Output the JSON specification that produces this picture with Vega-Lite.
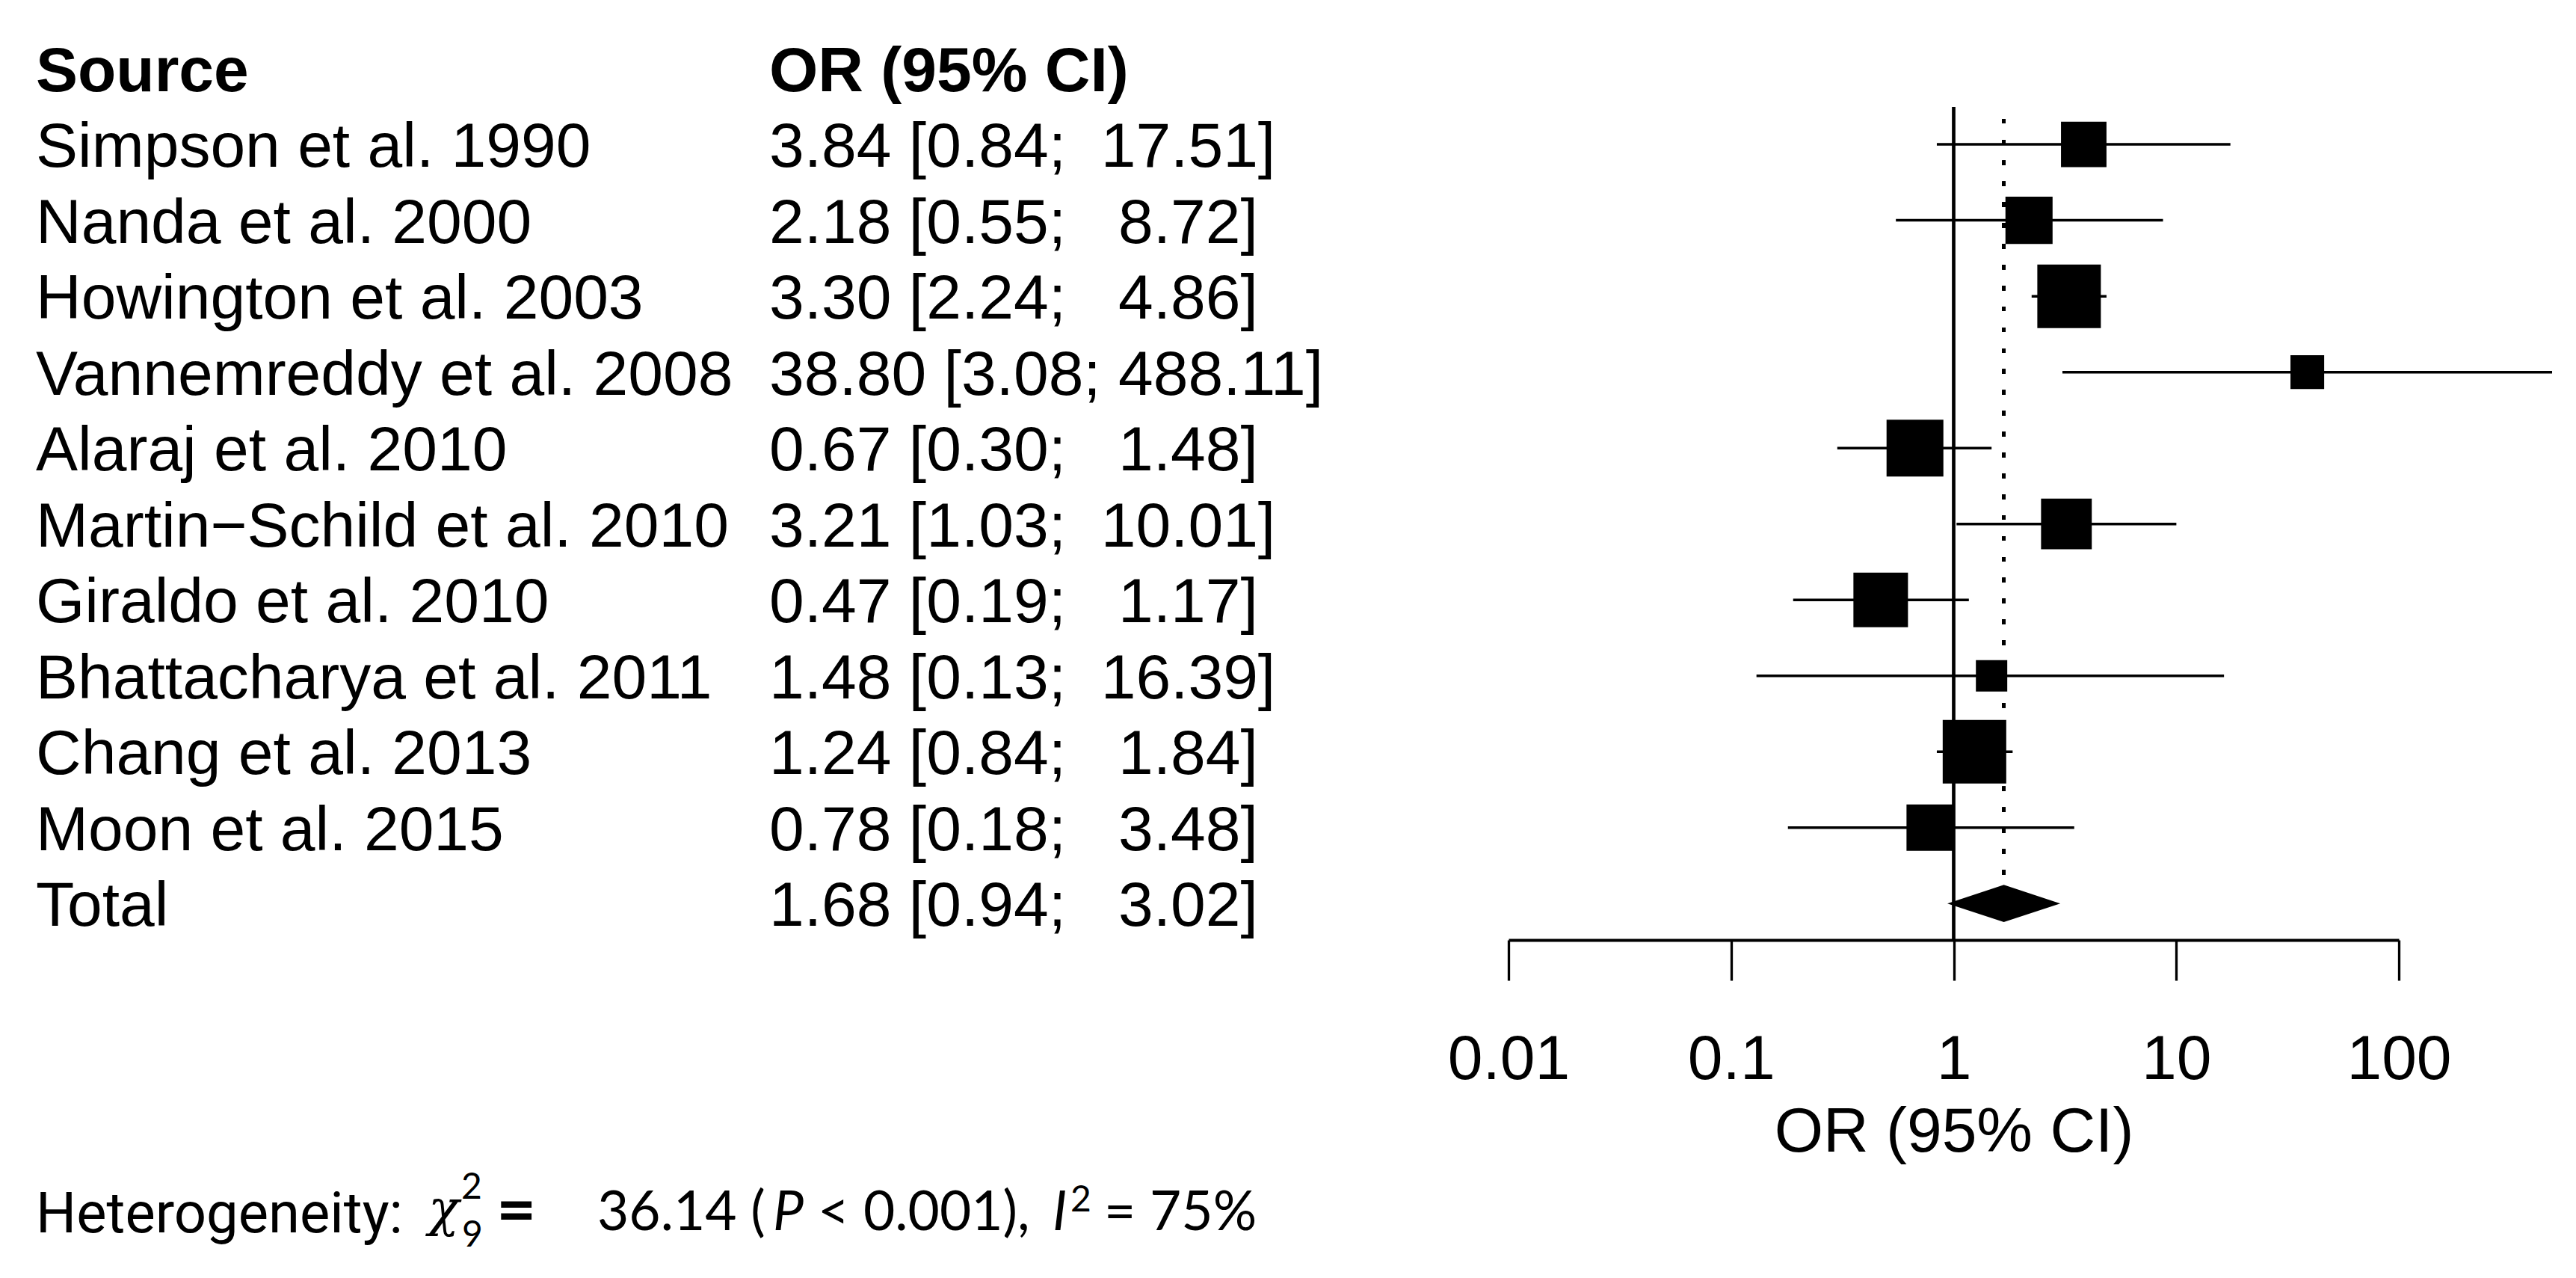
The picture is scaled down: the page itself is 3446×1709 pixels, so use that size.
{
  "$schema": "https://vega.github.io/schema/vega-lite/v6.json",
  "width": 3446,
  "height": 1257,
  "autosize": {"type": "none"},
  "padding": {"left": 0, "top": 0, "right": 0, "bottom": 452},
  "background": "white",
  "config": {
    "view": {"stroke": null},
    "font": "Liberation Sans",
    "text": {"font": "Liberation Sans"}
  },
  "datasets": {
    "studies": [
      {"row": 1, "study": "Simpson et al. 1990", "kind": "study", "or": 3.84, "lo": 0.84, "hi": 17.51, "weight": 8.2, "ci": "3.84 [0.84;\u00a0\u00a017.51]"},
      {"row": 2, "study": "Nanda et al. 2000", "kind": "study", "or": 2.18, "lo": 0.55, "hi": 8.72, "weight": 8.8, "ci": "2.18 [0.55;\u00a0\u00a0\u00a08.72]"},
      {"row": 3, "study": "Howington et al. 2003", "kind": "study", "or": 3.30, "lo": 2.24, "hi": 4.86, "weight": 16.0, "ci": "3.30 [2.24;\u00a0\u00a0\u00a04.86]"},
      {"row": 4, "study": "Vannemreddy et al. 2008", "kind": "study", "or": 38.80, "lo": 3.08, "hi": 488.11, "weight": 4.5, "ci": "38.80 [3.08; 488.11]"},
      {"row": 5, "study": "Alaraj et al. 2010", "kind": "study", "or": 0.67, "lo": 0.30, "hi": 1.48, "weight": 12.8, "ci": "0.67 [0.30;\u00a0\u00a0\u00a01.48]"},
      {"row": 6, "study": "Martin\u2212Schild et al. 2010", "kind": "study", "or": 3.21, "lo": 1.03, "hi": 10.01, "weight": 10.2, "ci": "3.21 [1.03;\u00a0\u00a010.01]"},
      {"row": 7, "study": "Giraldo et al. 2010", "kind": "study", "or": 0.47, "lo": 0.19, "hi": 1.17, "weight": 11.8, "ci": "0.47 [0.19;\u00a0\u00a0\u00a01.17]"},
      {"row": 8, "study": "Bhattacharya et al. 2011", "kind": "study", "or": 1.48, "lo": 0.13, "hi": 16.39, "weight": 3.9, "ci": "1.48 [0.13;\u00a0\u00a016.39]"},
      {"row": 9, "study": "Chang et al. 2013", "kind": "study", "or": 1.24, "lo": 0.84, "hi": 1.84, "weight": 16.0, "ci": "1.24 [0.84;\u00a0\u00a0\u00a01.84]"},
      {"row": 10, "study": "Moon et al. 2015", "kind": "study", "or": 0.78, "lo": 0.18, "hi": 3.48, "weight": 8.5, "ci": "0.78 [0.18;\u00a0\u00a0\u00a03.48]"},
      {"row": 11, "study": "Total", "kind": "total", "or": 1.68, "lo": 0.94, "hi": 3.02, "weight": null, "ci": "1.68 [0.94;\u00a0\u00a0\u00a03.02]"}
    ],
    "het": [
      {"part": "head", "label": "Heterogeneity:"},
      {"part": "chi", "label": "\u03c7"},
      {"part": "df", "label": "9"},
      {"part": "sq1", "label": "2"},
      {"part": "eq", "label": "="},
      {"part": "q", "label": "36.14 ("},
      {"part": "p", "label": "P"},
      {"part": "pv", "label": "< 0.001),"},
      {"part": "i", "label": "I"},
      {"part": "sq2", "label": "2"},
      {"part": "i2", "label": "= 75%"}
    ]
  },
  "data": {"name": "studies"},
  "layer": [
    {
      "layer": [
        {
          "mark": {"type": "rule", "color": "black", "strokeWidth": 3.3},
          "encoding": {
            "x": {"datum": 1, "type": "quantitative",
              "scale": {"type": "log", "domain": [0.01, 100], "range": [2018, 3209], "nice": false},
              "axis": {"values": [0.01, 0.1, 1, 10, 100], "format": "~g", "grid": false, "orient": "bottom",
                "tickSize": 54, "tickWidth": 3.3, "tickColor": "black", "domainColor": "black", "domainWidth": 4,
                "labelFont": "Liberation Sans", "labelFontSize": 84, "labelColor": "black", "labelPadding": 65,
                "labelFlush": false, "labelOverlap": false,
                "title": "OR (95% CI)", "titleFont": "Liberation Sans", "titleFontSize": 84, "titleFontWeight": "normal",
                "titleColor": "black", "titlePadding": 16}},
            "y": {"datum": 0.506, "type": "quantitative",
              "scale": {"domain": [-0.9025, 11.481], "reverse": true, "nice": false, "zero": false}, "axis": null},
            "y2": {"value": "height"}
          }
        },
        {
          "mark": {"type": "rule", "color": "black", "strokeWidth": 4.5, "strokeDash": [6, 21.9], "strokeCap": "butt"},
          "encoding": {
            "x": {"datum": 1.68, "type": "quantitative"},
            "y": {"datum": 0.664, "type": "quantitative"},
            "y2": {"datum": 10.754}
          }
        },
        {
          "transform": [{"filter": "datum.kind === 'study'"}],
          "mark": {"type": "rule", "color": "black", "strokeWidth": 3.5},
          "encoding": {
            "x": {"field": "lo", "type": "quantitative"},
            "x2": {"field": "hi"},
            "y": {"field": "row", "type": "quantitative"}
          }
        },
        {
          "transform": [{"filter": "datum.kind === 'study'"}],
          "mark": {"type": "point", "shape": "square", "filled": true, "color": "black", "opacity": 1, "strokeWidth": 0},
          "encoding": {
            "x": {"field": "or", "type": "quantitative"},
            "y": {"field": "row", "type": "quantitative"},
            "size": {"field": "weight", "type": "quantitative",
              "scale": {"type": "linear", "domain": [0, 16], "range": [0, 7225], "zero": true}, "legend": null}
          }
        },
        {
          "transform": [{"filter": "datum.kind === 'total'"}],
          "mark": {"type": "point", "shape": "M-1,0L0,-0.33L1,0L0,0.33Z", "filled": true, "color": "black", "opacity": 1, "strokeWidth": 0, "size": 22801},
          "encoding": {
            "x": {"field": "or", "type": "quantitative"},
            "y": {"field": "row", "type": "quantitative"}
          }
        }
      ]
    },
    {
      "layer": [
        {
          "mark": {"type": "text", "align": "left", "baseline": "middle", "dy": 5, "fontSize": 84, "color": "black"},
          "encoding": {
            "x": {"datum": "Source", "type": "nominal",
              "scale": {"type": "point", "domain": ["Source", "OR"], "range": [48, 1029], "padding": 0}, "axis": null},
            "y": {"field": "row", "type": "quantitative"},
            "text": {"field": "study"}
          }
        },
        {
          "mark": {"type": "text", "align": "left", "baseline": "middle", "dy": 5, "fontSize": 84, "color": "black"},
          "encoding": {
            "x": {"datum": "OR", "type": "nominal", "axis": null},
            "y": {"field": "row", "type": "quantitative"},
            "text": {"field": "ci"}
          }
        },
        {
          "data": {"values": [{"col": "Source", "label": "Source"}, {"col": "OR", "label": "OR (95% CI)"}]},
          "mark": {"type": "text", "align": "left", "baseline": "middle", "dy": 5, "fontSize": 84, "fontWeight": "bold", "color": "black"},
          "encoding": {
            "x": {"field": "col", "type": "nominal", "axis": null},
            "y": {"datum": 0, "type": "quantitative"},
            "text": {"field": "label"}
          }
        },
        {
          "data": {"name": "het"},
          "transform": [{"filter": "datum.part === 'head'"}],
          "mark": {"type": "text", "align": "left", "baseline": "alphabetic", "dy": 34, "fontSize": 76, "font": "Roboto", "color": "black"},
          "encoding": {"x": {"datum": "Source", "type": "nominal", "axis": null}, "y": {"datum": 15, "type": "quantitative"}, "text": {"field": "label"}}
        },
        {
          "data": {"name": "het"},
          "transform": [{"filter": "datum.part === 'chi'"}],
          "mark": {"type": "text", "align": "left", "baseline": "alphabetic", "dx": 525, "dy": 25, "fontSize": 68, "font": "DejaVu Serif", "fontStyle": "italic", "color": "black"},
          "encoding": {"x": {"datum": "Source", "type": "nominal", "axis": null}, "y": {"datum": 15, "type": "quantitative"}, "text": {"field": "label"}}
        },
        {
          "data": {"name": "het"},
          "transform": [{"filter": "datum.part === 'sq1'"}],
          "mark": {"type": "text", "align": "left", "baseline": "alphabetic", "dx": 569, "dy": -11, "fontSize": 48, "font": "Lato", "color": "black"},
          "encoding": {"x": {"datum": "Source", "type": "nominal", "axis": null}, "y": {"datum": 15, "type": "quantitative"}, "text": {"field": "label"}}
        },
        {
          "data": {"name": "het"},
          "transform": [{"filter": "datum.part === 'df'"}],
          "mark": {"type": "text", "align": "left", "baseline": "alphabetic", "dx": 570, "dy": 53, "fontSize": 48, "font": "Lato", "color": "black"},
          "encoding": {"x": {"datum": "Source", "type": "nominal", "axis": null}, "y": {"datum": 15, "type": "quantitative"}, "text": {"field": "label"}}
        },
        {
          "data": {"name": "het"},
          "transform": [{"filter": "datum.part === 'eq'"}],
          "mark": {"type": "text", "align": "left", "baseline": "alphabetic", "dx": 616, "dy": 36, "fontSize": 92, "font": "Lato", "fontWeight": "bold", "color": "black"},
          "encoding": {"x": {"datum": "Source", "type": "nominal", "axis": null}, "y": {"datum": 15, "type": "quantitative"}, "text": {"field": "label"}}
        },
        {
          "data": {"name": "het"},
          "transform": [{"filter": "datum.part === 'q'"}],
          "mark": {"type": "text", "align": "left", "baseline": "alphabetic", "dx": 751, "dy": 31, "fontSize": 73, "font": "Lato", "color": "black"},
          "encoding": {"x": {"datum": "Source", "type": "nominal", "axis": null}, "y": {"datum": 15, "type": "quantitative"}, "text": {"field": "label"}}
        },
        {
          "data": {"name": "het"},
          "transform": [{"filter": "datum.part === 'p'"}],
          "mark": {"type": "text", "align": "left", "baseline": "alphabetic", "dx": 986, "dy": 31, "fontSize": 73, "font": "Lato", "fontStyle": "italic", "color": "black"},
          "encoding": {"x": {"datum": "Source", "type": "nominal", "axis": null}, "y": {"datum": 15, "type": "quantitative"}, "text": {"field": "label"}}
        },
        {
          "data": {"name": "het"},
          "transform": [{"filter": "datum.part === 'pv'"}],
          "mark": {"type": "text", "align": "left", "baseline": "alphabetic", "dx": 1046, "dy": 31, "fontSize": 73, "font": "Lato", "color": "black"},
          "encoding": {"x": {"datum": "Source", "type": "nominal", "axis": null}, "y": {"datum": 15, "type": "quantitative"}, "text": {"field": "label"}}
        },
        {
          "data": {"name": "het"},
          "transform": [{"filter": "datum.part === 'i'"}],
          "mark": {"type": "text", "align": "left", "baseline": "alphabetic", "dx": 1360, "dy": 31, "fontSize": 73, "font": "Lato", "fontStyle": "italic", "color": "black"},
          "encoding": {"x": {"datum": "Source", "type": "nominal", "axis": null}, "y": {"datum": 15, "type": "quantitative"}, "text": {"field": "label"}}
        },
        {
          "data": {"name": "het"},
          "transform": [{"filter": "datum.part === 'sq2'"}],
          "mark": {"type": "text", "align": "left", "baseline": "alphabetic", "dx": 1384, "dy": 6, "fontSize": 48, "font": "Lato", "color": "black"},
          "encoding": {"x": {"datum": "Source", "type": "nominal", "axis": null}, "y": {"datum": 15, "type": "quantitative"}, "text": {"field": "label"}}
        },
        {
          "data": {"name": "het"},
          "transform": [{"filter": "datum.part === 'i2'"}],
          "mark": {"type": "text", "align": "left", "baseline": "alphabetic", "dx": 1429, "dy": 31, "fontSize": 73, "font": "Lato", "color": "black"},
          "encoding": {"x": {"datum": "Source", "type": "nominal", "axis": null}, "y": {"datum": 15, "type": "quantitative"}, "text": {"field": "label"}}
        }
      ]
    }
  ],
  "resolve": {"scale": {"x": "independent"}, "axis": {"x": "independent"}}
}
